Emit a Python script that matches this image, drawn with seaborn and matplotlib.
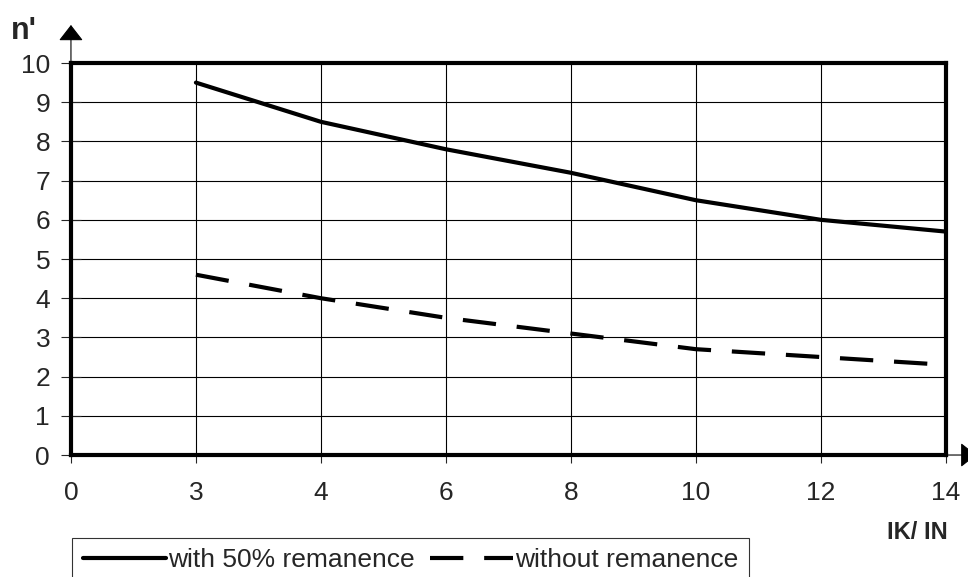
import pandas as pd
import seaborn as sns
import matplotlib.pyplot as plt

x_labels = ['0', '3', '4', '6', '8', '10', '12', '14']
ik_in = ['3', '4', '6', '8', '10', '12', '14']
with_remanence = [9.5, 8.5, 7.8, 7.2, 6.5, 6.0, 5.7]
without_remanence = [4.6, 4.0, 3.5, 3.1, 2.7, 2.5, 2.3]

pos = [x_labels.index(c) for c in ik_in]
df = pd.concat([
    pd.DataFrame({'pos': pos, 'n': with_remanence, 'series': 'with 50% remanence'}),
    pd.DataFrame({'pos': pos, 'n': without_remanence, 'series': 'without remanence'}),
])

sns.set_style('white')
plt.rcParams['font.family'] = ['Liberation Sans', 'DejaVu Sans']
plt.rcParams['font.size'] = 19

fig = plt.figure(figsize=(9.68, 5.77), dpi=100)
ax = fig.add_axes([0.0733, 0.2114, 0.9037, 0.6794])

sns.lineplot(data=df, x='pos', y='n', style='series',
             dashes={'with 50% remanence': '', 'without remanence': (8, 5)},
             color='black', linewidth=3, ax=ax, legend=False)

ax.set_xlim(0, len(x_labels) - 1)
ax.set_ylim(0, 10)
ax.set_xticks(range(len(x_labels)))
ax.set_xticklabels(x_labels)
ax.set_yticks(range(0, 11))
ax.grid(True, color='black', linewidth=0.8)
for s in ax.spines.values():
    s.set_visible(True)
    s.set_color('black')
    s.set_linewidth(3)
ax.tick_params(axis='y', direction='inout', length=14, width=0.8, labelsize=19, pad=8, left=True)
ax.tick_params(axis='x', direction='out', length=6, width=0.8, labelsize=19, pad=13, bottom=True)
ax.set_xlabel('')
ax.set_ylabel('')

# axis arrows
head = '-|>,head_length=0.45,head_width=0.35'
ax.annotate('', xy=(0, 1.097), xytext=(0, 1.0), xycoords='axes fraction',
            arrowprops=dict(arrowstyle=head, color='black', lw=0.8, mutation_scale=22,
                            shrinkA=0, shrinkB=0))
ax.annotate('', xy=(1.035, 0), xytext=(1.0, 0), xycoords='axes fraction',
            arrowprops=dict(arrowstyle=head, color='black', lw=0.8, mutation_scale=22,
                            shrinkA=0, shrinkB=0))

fig.text(0.011, 0.946, "n'", fontsize=22, fontweight='bold', va='center')
fig.text(0.979, 0.0763, 'IK/ IN', fontsize=17, fontweight='bold', ha='right', va='center')

handles = [plt.Line2D([], [], color='black', lw=3),
           plt.Line2D([], [], color='black', lw=3, dashes=(8, 5))]
leg = fig.legend(handles, ['with 50% remanence', 'without remanence'], ncol=2,
                 loc='upper left', bbox_to_anchor=(0.0744, 0.068), frameon=True,
                 fancybox=False, edgecolor='black', fontsize=19, handlelength=3.15,
                 handletextpad=0.08, columnspacing=0.6, borderpad=0.4, borderaxespad=0)
leg.get_frame().set_linewidth(0.8)

fig.savefig('out.png', dpi=100)
